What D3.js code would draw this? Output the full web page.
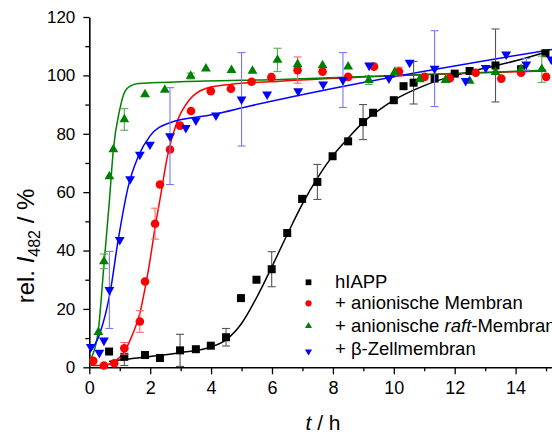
<!DOCTYPE html>
<html>
<head>
<meta charset="utf-8">
<script src="https://cdn.jsdelivr.net/npm/d3@7"></script>
<style>
  html, body { margin: 0; padding: 0; background: #fff; }
  svg { display: block; font-family: "Liberation Sans", Arial, sans-serif; }
</style>
</head>
<body>
<svg id="chart" width="552" height="434"></svg>
<script>
// ---------------- data ----------------
const seriesNames = ["hIAPP", "+ anionische Membran", "+ anionische raft-Membran", "+ β-Zellmembran"];

const hiappT = [0.65,1.15,1.83,2.32,2.98,3.5,3.99,4.49,4.98,5.49,5.99,6.5,6.99,7.49,7.99,8.5,8.99,9.32,10.0,10.32,10.65,11.34,12.0,12.49,13.34,14.18,14.98];
const hiappV = [5.4,3.6,4.2,3.2,5.8,6.2,7.4,10.3,23.7,30,33.6,46,57.7,63.5,72.3,77.4,84,87.2,91.5,96.3,97.5,98.9,100.6,101.5,103.4,102.1,107.6];
const hiappE = [0,3,0,0,5.5,0,0,3,0,0,6,0,0,6,0,0,6,0,0,0,7.3,0,0,0,12.5,0,0];

const anionT = [0.13,0.48,0.82,1.15,1.66,1.83,2.16,2.32,2.65,2.98,3.34,3.99,4.65,5.33,5.98,6.84,7.66,8.5,9.35,10.17,11.01,11.84,12.69,13.53,14.18,15.0];
const anionV = [2.2,0.6,1.4,6.5,15.7,29.4,49.2,62.6,74.6,82.8,87.8,94.6,95.4,97.8,99.4,101.8,101.3,99.5,103,101.3,99.5,99,100.9,98.9,100.9,99.5];
const anionE = [0,0,0,2,3.7,0,5.3,0,0,0,0,0,0,0,0,4.5,0,0,0,1.5,0,0,0,0,0,0];

const raftT = [0.30,0.48,0.66,0.79,1.15,1.83,2.48,3.33,3.83,4.67,5.36,6.18,6.84,7.66,8.5,9.18,10.03,10.85,11.7,12.49,13.34,14.18,14.86];
const raftV = [12,36.3,65.4,74.6,84.9,93.5,95,99.8,102.3,101.8,101.5,105.3,103.8,103.4,103,98.4,101.1,98.6,98.4,98.1,101.1,102.1,102.1];
const raftE = [0,2.5,0,0,3.7,0,0,1,0,0,0,4,0,0,0,1.5,0,0,0,0,0,0,4.5];

const betaT = [0.05,0.33,0.48,0.66,1.0,1.34,1.66,1.99,2.65,3.17,3.5,4.16,5.0,5.84,6.86,7.68,8.33,9.19,9.84,10.52,11.34,12.36,13.02,13.69,14.35,15.17];
const betaV = [7,5,9.2,26.5,43.7,64.5,72.9,76.3,79.2,82,84.6,86.3,91.8,93.5,94.6,96.9,98.4,103.4,99,104.4,102.3,98.1,102.6,107.2,103.8,105.5];
const betaE = [0,0,0,13.2,0,0,0,0,16.6,0,0,0,16,0,0,0,9.4,0,0,0,13,0,0,0,2,0];

// fitted curves
const hiappFitT = [0.65,1.0,2.0,3.0,4.0,4.5,5.0,5.5,6.0,6.5,7.0,7.5,8.0,8.5,9.0,9.5,10.0,11.0,12.0,13.0,14.0,15.06];
const hiappFitV = [2.0,2.5,3.7,5.0,7.0,9.5,15,24,34.5,45.5,56,65,72.5,78.5,84,88,91.5,96.5,100,102.5,105,108.2];
const anionFitT = [0.05,0.5,0.8,1.12,1.39,1.66,1.83,2.0,2.16,2.32,2.56,2.87,3.3,3.85,4.62,6.26,15.0];
const anionFitV = [0.6,0.7,1.9,4.8,10.5,18.5,27,37,48,57.4,72,83.8,91.8,95.6,96.9,98,101.5];
const raftFitT = [0.0,0.1,0.3,0.48,0.66,0.79,1.0,1.17,1.34,1.61,3.0,6.26,15.0];
const raftFitV = [2.5,4,13,35,57,74.6,88.3,94.5,96.3,97.2,97.8,98.6,101.8];
const betaFitT = [0.0,0.35,0.68,0.95,1.28,1.61,1.99,2.65,4.07,5.27,15.2];
const betaFitV = [5.0,11.7,25.4,43.7,62,72.3,79.2,83.8,86.6,89.5,108.9];

const xTicks = [0,2,4,6,8,10,12,14];
const xMinor = [1,3,5,7,9,11,13,15];
const yTicks = [0,20,40,60,80,100,120];
const yMinor = [10,30,50,70,90,110];

const colors = ["#000000", "#ff0000", "#008000", "#0000ff"];
const errColors = ["#555555", "#ff6666", "#55aa55", "#7777ff"];

// ---------------- layout ----------------
const svg = d3.select("#chart");
const x = d3.scaleLinear().domain([0, 14]).range([89.3, 515.6]);
const y = d3.scaleLinear().domain([0, 120]).range([367.3, 17]);
const xAxisScale = x.copy().domain([0, 15.5]).range([x(0), x(15.5)]);

// axes
const gx = svg.append("g").attr("transform", `translate(0,${y(0)})`);
gx.call(d3.axisBottom(xAxisScale).tickValues(xTicks).tickSize(7).tickSizeOuter(0).tickPadding(7).tickFormat(d3.format("d")));
const gxm = svg.append("g").attr("transform", `translate(0,${y(0)})`);
gxm.call(d3.axisBottom(xAxisScale).tickValues(xMinor).tickSize(4).tickSizeOuter(0).tickFormat(""));
gxm.select(".domain").remove();

const gy = svg.append("g").attr("transform", `translate(${x(0)},0)`);
gy.call(d3.axisLeft(y).tickValues(yTicks).tickSize(6).tickSizeOuter(0).tickPadding(8).tickFormat(d3.format("d")));
const gym = svg.append("g").attr("transform", `translate(${x(0)},0)`);
gym.call(d3.axisLeft(y).tickValues(yMinor).tickSize(4).tickSizeOuter(0).tickFormat(""));
gym.select(".domain").remove();

svg.selectAll(".domain").attr("stroke", "#000").attr("stroke-width", 1.6);
svg.selectAll(".tick line").attr("stroke", "#000").attr("stroke-width", 1.3);
gx.selectAll("text").attr("font-size", 18).attr("fill", "#000").attr("font-family", "Liberation Sans, Arial, sans-serif");
gy.selectAll("text").attr("font-size", 17).attr("fill", "#000").attr("font-family", "Liberation Sans, Arial, sans-serif");

// axis titles
const xt = svg.append("text").attr("x", 323).attr("y", 430).attr("text-anchor", "middle")
  .attr("font-size", 21).attr("fill", "#000");
xt.append("tspan").attr("font-style", "italic").text("t");
xt.append("tspan").text(" / h");

const yt = svg.append("text").attr("transform", "translate(34,246) rotate(-90)")
  .attr("text-anchor", "middle").attr("font-size", 24).attr("fill", "#000");
yt.append("tspan").text("rel. ");
yt.append("tspan").attr("font-style", "italic").text("I");
yt.append("tspan").attr("font-size", 16).attr("dy", 6).text("482");
yt.append("tspan").attr("dy", -6).text(" / %");

// ---------------- series ----------------
const series = [
  {t: hiappT, v: hiappV, e: hiappE, ft: hiappFitT, fv: hiappFitV, shape: "square"},
  {t: anionT, v: anionV, e: anionE, ft: anionFitT, fv: anionFitV, shape: "circle"},
  {t: raftT,  v: raftV,  e: raftE,  ft: raftFitT,  fv: raftFitV,  shape: "up"},
  {t: betaT,  v: betaV,  e: betaE,  ft: betaFitT,  fv: betaFitV,  shape: "down"}
];

const line = d3.line().x(d => x(d[0])).y(d => y(d[1])).curve(d3.curveMonotoneX);

function drawMarker(g, shape, cx, cy, color, scale) {
  if (shape === "square") {
    const s = 8 * scale;
    g.append("rect").attr("x", cx - s/2).attr("y", cy - s/2).attr("width", s).attr("height", s).attr("fill", color);
  } else if (shape === "circle") {
    g.append("circle").attr("cx", cx).attr("cy", cy).attr("r", 4.3 * scale).attr("fill", color);
  } else {
    const sym = d3.symbol().type(d3.symbolTriangle).size(42 * scale * scale);
    g.append("path").attr("d", sym())
      .attr("transform", `translate(${cx},${cy})` + (shape === "down" ? " rotate(180)" : ""))
      .attr("fill", color);
  }
}

// fit lines
series.forEach((s, i) => {
  const pts = s.ft.map((t, k) => [t, s.fv[k]]);
  svg.append("path").attr("d", line(pts)).attr("fill", "none")
    .attr("stroke", colors[i]).attr("stroke-width", 1.5);
});

// error bars + markers
series.forEach((s, i) => {
  const g = svg.append("g");
  s.t.forEach((t, k) => {
    const err = s.e[k];
    if (err > 0) {
      const cx = x(t), y1 = y(s.v[k] - err), y2 = y(s.v[k] + err);
      const eg = g.append("g").attr("stroke", errColors[i]).attr("stroke-width", 1.1);
      eg.append("line").attr("x1", cx).attr("x2", cx).attr("y1", y1).attr("y2", y2);
      eg.append("line").attr("x1", cx - 4).attr("x2", cx + 4).attr("y1", y1).attr("y2", y1);
      eg.append("line").attr("x1", cx - 4).attr("x2", cx + 4).attr("y1", y2).attr("y2", y2);
    }
  });
  s.t.forEach((t, k) => drawMarker(g, s.shape, x(t), y(s.v[k]), colors[i], 1));
});

// ---------------- legend ----------------
const legendMarkerY = [282.3, 303.3, 326, 351.5];
const legendTextY = [288, 309, 331.5, 355];
const leg = svg.append("g");
series.forEach((s, i) => {
  drawMarker(leg, s.shape, 308.5, legendMarkerY[i], colors[i], 0.72);
  const tx = leg.append("text").attr("x", 335).attr("y", legendTextY[i]).attr("font-size", 18.5).attr("fill", "#000");
  if (i === 2) {
    tx.append("tspan").text("+ anionische ");
    tx.append("tspan").attr("font-style", "italic").text("raft");
    tx.append("tspan").text("-Membran");
  } else {
    tx.text(seriesNames[i]);
  }
});
</script>
</body>
</html>
